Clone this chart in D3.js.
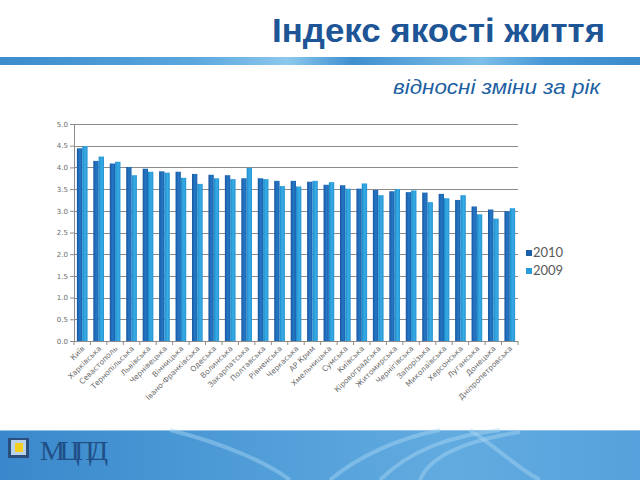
<!DOCTYPE html>
<html><head><meta charset="utf-8">
<script src="https://cdn.jsdelivr.net/npm/d3@7"></script>
<style>html,body{margin:0;padding:0;background:#fff;}svg{display:block;}</style>
</head><body>
<svg id="c" width="640" height="480"></svg>
<script>
const categories = ["Київ","Харківська","Севастополь","Тернопільська","Львівська","Чернівецька","Вінницька","Івано-Франківська","Одеська","Волинська","Закарпатська","Полтавська","Рівненська","Черкаська","АР Крим","Хмельницька","Сумська","Київська","Кіровоградська","Житомирська","Чернігівська","Запорізька","Миколаївська","Херсонська","Луганська","Донецька","Дніпропетровська"];
const values2010 = [4.44,4.15,4.09,4.01,3.97,3.91,3.90,3.85,3.83,3.82,3.75,3.75,3.69,3.69,3.67,3.60,3.59,3.51,3.48,3.45,3.43,3.42,3.39,3.25,3.10,3.03,2.99];
const values2009 = [4.49,4.25,4.13,3.82,3.90,3.88,3.76,3.62,3.75,3.73,3.99,3.73,3.57,3.56,3.69,3.66,3.51,3.63,3.36,3.50,3.47,3.20,3.29,3.36,2.92,2.82,3.06];
const seriesNames = ["2010","2009"];
const yTicks = [0,0.5,1,1.5,2,2.5,3,3.5,4,4.5,5];

(function(){
const svg = d3.select("#c");
const defs = svg.append("defs");

function lg(id, stops){
  const g = defs.append("linearGradient").attr("id",id).attr("x1",0).attr("y1",0).attr("x2",1).attr("y2",0);
  stops.forEach(s=>g.append("stop").attr("offset",s[0]).attr("stop-color",s[1]));
}
lg("g2010",[[0,"#1a56a0"],[0.55,"#2478c6"],[1,"#1d62ad"]]);
lg("g2009",[[0,"#1c8ccc"],[0.55,"#38abe4"],[1,"#2694d4"]]);
lg("band",[[0,"#3a8ccd"],[0.3,"#5aa6dd"],[0.45,"#8cc8ec"],[0.55,"#3f8fcf"],[0.75,"#7dbfe8"],[0.85,"#4898d6"],[1,"#3a8ccd"]]);
lg("banner",[[0,"#3a88cb"],[0.4,"#509dd8"],[0.7,"#62abe0"],[1,"#55a2dc"]]);

svg.append("text").attr("x",605).attr("y",42).attr("text-anchor","end")
  .attr("font-family","Liberation Sans, Arial, sans-serif").attr("font-weight","bold")
  .attr("font-size",33).attr("fill","#1d5596").attr("textLength",333).attr("lengthAdjust","spacingAndGlyphs")
  .text("Індекс якості життя");
svg.append("rect").attr("x",0).attr("y",57).attr("width",640).attr("height",8).attr("fill","url(#band)");
svg.append("text").attr("x",600).attr("y",94).attr("text-anchor","end")
  .attr("font-family","Liberation Sans, Arial, sans-serif").attr("font-style","italic")
  .attr("font-size",21).attr("fill","#1d5fa2").attr("textLength",207).attr("lengthAdjust","spacingAndGlyphs")
  .text("відносні зміни за рік");

const pLeft=74, pRight=518, pTop=124, pBottom=341;
const x0 = d3.scaleBand().domain(categories).range([pLeft,pRight]).paddingInner(0.35).paddingOuter(0.175);
const x1 = d3.scaleBand().domain(seriesNames).range([0,x0.bandwidth()]);
const y = d3.scaleLinear().domain([0,5]).range([pBottom,pTop]);

svg.append("g").selectAll("line").data(yTicks.filter(d=>d>0)).join("line")
  .attr("x1",pLeft).attr("x2",pRight).attr("y1",d=>Math.round(y(d))+0.5).attr("y2",d=>Math.round(y(d))+0.5)
  .attr("stroke","#8c8c8c").attr("stroke-width",1);

const data = categories.map((c,i)=>({c, v:[values2010[i],values2009[i]]}));
const grp = svg.append("g").selectAll("g").data(data).join("g")
  .attr("transform",d=>`translate(${x0(d.c)},0)`);
grp.selectAll("rect").data(d=>d.v.map((v,j)=>({s:seriesNames[j],v}))).join("rect")
  .attr("x",d=>x1(d.s)).attr("width",x1.bandwidth())
  .attr("y",d=>y(d.v)).attr("height",d=>pBottom-y(d.v))
  .attr("fill",d=>d.s==="2010"?"url(#g2010)":"url(#g2009)");

const yAxis = svg.append("g").attr("transform",`translate(${pLeft},0)`)
  .call(d3.axisLeft(y).tickValues(yTicks).tickFormat(d3.format(".1f")).tickSize(4).tickPadding(2));
yAxis.select(".domain").attr("stroke","#8c8c8c");
yAxis.selectAll(".tick line").attr("stroke","#8c8c8c");
yAxis.selectAll("text").attr("font-family","DejaVu Sans, sans-serif").attr("font-size",7).attr("fill","#6a6a6a");

const step = x0.step();
const xAxisG = svg.append("g");
xAxisG.append("line").attr("x1",pLeft).attr("x2",pRight).attr("y1",pBottom+0.5).attr("y2",pBottom+0.5).attr("stroke","#8c8c8c");
xAxisG.selectAll("line.t").data(d3.range(categories.length+1)).join("line").attr("class","t")
  .attr("x1",i=>pLeft+i*step).attr("x2",i=>pLeft+i*step).attr("y1",pBottom).attr("y2",pBottom+4).attr("stroke","#9a8a80");
xAxisG.selectAll("text").data(categories).join("text")
  .attr("transform",d=>`translate(${x0(d)+x0.bandwidth()/2+3},${pBottom+8}) rotate(-45)`)
  .attr("text-anchor","end").attr("font-family","DejaVu Sans, sans-serif").attr("font-size",7.5)
  .attr("fill","#6a6a6a").text(d=>d);

const leg = svg.append("g").selectAll("g").data(seriesNames).join("g")
  .attr("transform",(d,i)=>`translate(526,${250+i*18})`);
leg.append("rect").attr("width",6).attr("height",6).attr("fill",d=>d==="2010"?"#1d5fa8":"#2a9ad8");
leg.append("text").attr("x",7).attr("y",7).attr("font-family","Lato, Open Sans, sans-serif").attr("font-size",13)
  .attr("fill","#595959").text(d=>d);

svg.append("rect").attr("x",0).attr("y",430).attr("width",640).attr("height",50).attr("fill","url(#banner)");
svg.append("line").attr("x1",0).attr("x2",640).attr("y1",430.5).attr("y2",430.5).attr("stroke","#8fc3ea");
const streaks = [
  "M170,430 C230,445 270,465 290,480",
  "M330,480 C360,455 400,438 440,430",
  "M380,480 C410,450 450,436 500,430",
  "M420,480 C430,455 470,440 520,432",
  "M470,430 C500,450 520,470 540,480"
];
svg.append("g").selectAll("path").data(streaks).join("path").attr("d",d=>d)
  .attr("fill","none").attr("stroke","#a9d6f3").attr("stroke-opacity",0.45).attr("stroke-width",4);
const logo = svg.append("g").attr("transform","translate(8,438)");
logo.append("rect").attr("width",21).attr("height",20).attr("fill","#2a4f7c");
logo.append("rect").attr("x",3).attr("y",2).attr("width",15).attr("height",15).attr("fill","#b9d2ea");
logo.append("rect").attr("x",7).attr("y",5).attr("width",8).attr("height",9).attr("fill","#f2cf1e");
svg.append("text").attr("x",40).attr("y",460).attr("font-family","Liberation Serif, serif")
  .attr("font-size",28).attr("fill","#1f4f86").attr("textLength",68).text("МЦПД");
})();
</script>
</body></html>
